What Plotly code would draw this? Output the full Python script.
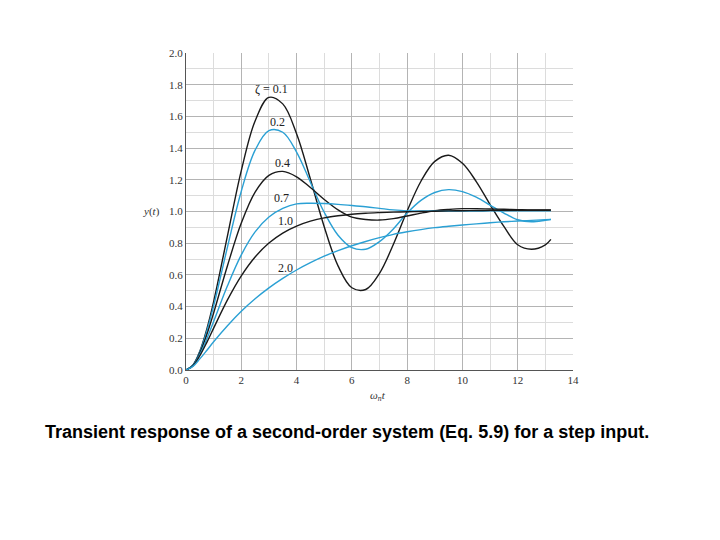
"""Step response of a second-order system for several damping ratios."""

import plotly.graph_objects as go

# time axis (omega_n * t)
wn_t = [0, 0.25, 0.5, 0.75, 1, 1.5, 2, 2.5, 3, 3.5, 4, 4.5, 5, 5.5, 6, 6.5, 7, 7.5, 8,
        8.5, 9, 9.5, 10, 10.5, 11, 11.5, 12, 12.5, 13, 13.2]

# y(t), one list per damping ratio
y_z01 = [0, 0.031, 0.118, 0.256, 0.431, 0.846, 1.258, 1.571, 1.720, 1.679, 1.491, 1.205,
         0.904, 0.657, 0.519, 0.508, 0.61, 0.792, 1.003, 1.191, 1.316, 1.355,
         1.304, 1.189, 1.044, 0.906, 0.79, 0.762, 0.79, 0.824]
y_z02 = [0, 0.03, 0.115, 0.244, 0.405, 0.775, 1.128, 1.387, 1.51, 1.5, 1.375, 1.185,
         0.995, 0.85, 0.772, 0.762, 0.81, 0.89, 0.99, 1.07, 1.12, 1.138,
         1.125, 1.09, 1.04, 0.99, 0.948, 0.935, 0.945, 0.95]
y_z04 = [0, 0.029, 0.108, 0.222, 0.36, 0.658, 0.927, 1.122, 1.228, 1.253, 1.219, 1.151,
         1.076, 1.01, 0.964, 0.95, 0.946, 0.955, 0.972, 0.99, 1.005, 1.013,
         1.018, 1.018, 1.016, 1.014, 1.012, 1.01, 1.01, 1.01]
y_z07 = [0, 0.028, 0.098, 0.195, 0.306, 0.531, 0.726, 0.871, 0.965, 1.019, 1.048, 1.052,
         1.05, 1.045, 1.038, 1.03, 1.02, 1.01, 1.004, 1.003, 1.003, 1.003,
         1.003, 1.003, 1.004, 1.004, 1.005, 1.005, 1.005, 1.005]
y_z10 = [0, 0.026, 0.09, 0.173, 0.264, 0.442, 0.594, 0.713, 0.801, 0.864, 0.908, 0.939,
         0.96, 0.973, 0.983, 0.989, 0.993, 0.996, 0.998, 1.0, 1.002, 1.004,
         1.005, 1.006, 1.007, 1.008, 1.008, 1.008, 1.008, 1.008]
y_z20 = [0, 0.023, 0.07, 0.123, 0.178, 0.279, 0.37, 0.449, 0.518, 0.578, 0.631, 0.677,
         0.718, 0.753, 0.784, 0.811, 0.835, 0.856, 0.872, 0.886, 0.898, 0.907,
         0.915, 0.922, 0.929, 0.935, 0.94, 0.944, 0.948, 0.95]

curves = [y_z01, y_z02, y_z04, y_z07, y_z10, y_z20]
labels = ['\u03b6 = 0.1', '0.2', '0.4', '0.7', '1.0', '2.0']
label_x = [3.1, 3.3, 3.5, 3.45, 3.6, 3.6]
label_y = [1.775, 1.566, 1.307, 1.087, 0.941, 0.645]

BLACK = '#1a1a1a'
BLUE = '#2aa0d4'
colors = [BLACK, BLUE, BLACK, BLUE, BLACK, BLUE]

SERIF = 'Liberation Serif, DejaVu Serif, serif'

fig = go.Figure()
for ys, col in zip(curves, colors):
    fig.add_trace(go.Scatter(x=wn_t, y=ys, mode='lines',
                             line=dict(color=col, width=1.4, shape='spline', smoothing=1.0),
                             showlegend=False, hoverinfo='skip'))

for txt, lx, ly in zip(labels, label_x, label_y):
    fig.add_annotation(x=lx, y=ly, text=txt, showarrow=False,
                       font=dict(family=SERIF, size=12, color='#222'))

# axis names
fig.add_annotation(xref='paper', yref='paper', x=-0.088, y=0.5, xanchor='center', yanchor='middle',
                   text='<i>y</i>(<i>t</i>)',
                   showarrow=False, font=dict(family=SERIF, size=11, color='#333'))
fig.add_annotation(xref='paper', yref='paper', x=0.495, y=-0.082, xanchor='center', yanchor='middle',
                   text='<i>\u03c9<sub>n</sub>t</i>',
                   showarrow=False, font=dict(family=SERIF, size=11, color='#333'))

# caption
fig.add_annotation(xref='paper', yref='paper', x=-0.3695, y=-0.196, xanchor='left', yanchor='middle',
                   text='<b>Transient response of a second-order system (Eq. 5.9) for a step input.</b>',
                   showarrow=False, font=dict(family='Liberation Sans', size=18, color='black'))

fig.update_xaxes(range=[0, 14], tickvals=list(range(0, 15, 2)),
                 showgrid=True, gridcolor='#b4b4b4', gridwidth=1,
                 minor=dict(dtick=1, showgrid=True, gridcolor='#dcdcdc'),
                 showline=True, linecolor='#555', linewidth=1, mirror=False,
                 zeroline=False, ticks='', tickfont=dict(family=SERIF, size=11, color='#333'))
fig.update_yaxes(range=[0, 2], tickvals=[i / 10 for i in range(0, 21, 2)],
                 tickformat='.1f',
                 showgrid=True, gridcolor='#b4b4b4', gridwidth=1,
                 minor=dict(dtick=0.1, showgrid=True, gridcolor='#dcdcdc'),
                 showline=True, linecolor='#555', linewidth=1,
                 zeroline=False, ticks='', tickfont=dict(family=SERIF, size=11, color='#333'))

# page body adds an 8px offset, so the margins are trimmed by that much
fig.update_layout(width=720, height=540, plot_bgcolor='white', paper_bgcolor='white',
                  margin=dict(l=178, r=155, t=45, b=178))

fig.write_html('out.html')
